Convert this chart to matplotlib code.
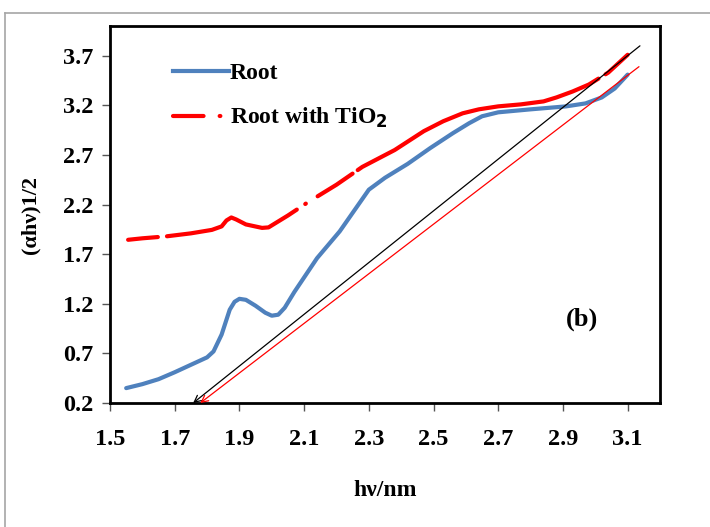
import matplotlib
matplotlib.use("Agg")
import matplotlib.pyplot as plt
from matplotlib.lines import Line2D

plt.rcParams['font.family'] = ['Liberation Serif', 'DejaVu Serif']
plt.rcParams['font.weight'] = 'bold'
plt.rcParams['lines.scale_dashes'] = False

# Root (blue) curve
root_x = [1.55, 1.60, 1.65, 1.70, 1.76, 1.80, 1.82, 1.845, 1.87, 1.885, 1.90,
          1.92, 1.95, 1.98, 2.00, 2.02, 2.04, 2.07, 2.14, 2.21, 2.27, 2.30,
          2.35, 2.42, 2.49, 2.56, 2.61, 2.65, 2.70, 2.80, 2.91, 2.97, 3.02,
          3.06, 3.10]
root_y = [0.35, 0.39, 0.44, 0.51, 0.60, 0.66, 0.72, 0.89, 1.14, 1.22, 1.25,
          1.24, 1.18, 1.11, 1.08, 1.09, 1.16, 1.32, 1.66, 1.93, 2.21, 2.35,
          2.47, 2.61, 2.77, 2.92, 3.02, 3.09, 3.13, 3.16, 3.19, 3.22, 3.28,
          3.37, 3.51]

# Root with TiO2 (red) curve
tio2_x = [1.556, 1.60, 1.675, 1.75, 1.815, 1.845, 1.86, 1.875, 1.89, 1.92,
          1.97, 1.99, 2.01, 2.05, 2.11, 2.20, 2.28, 2.38, 2.47, 2.53, 2.59,
          2.64, 2.70, 2.77, 2.84, 2.88, 2.93, 2.98, 3.04, 3.10]
tio2_y = [1.845, 1.86, 1.88, 1.91, 1.945, 1.98, 2.04, 2.07, 2.05, 2.00,
          1.965, 1.97, 2.01, 2.09, 2.22, 2.40, 2.58, 2.75, 2.94, 3.04, 3.12,
          3.16, 3.19, 3.21, 3.24, 3.28, 3.34, 3.41, 3.53, 3.71]

# tangent (extrapolation) lines: (top point, intercept on x axis)
black_fit = [(3.138, 3.80), (1.757, 0.20)]
red_fit = [(3.135, 3.59), (1.779, 0.20)]

x_ticks = [1.5, 1.7, 1.9, 2.1, 2.3, 2.5, 2.7, 2.9, 3.1]
y_ticks = [0.2, 0.7, 1.2, 1.7, 2.2, 2.7, 3.2, 3.7]

fig = plt.figure(figsize=(7.1, 5.27), dpi=100)
ax = fig.add_axes([110 / 710, 1 - 403 / 527, 550 / 710, 377 / 527])

blue = '#4f81bd'
red = '#ff0000'
red_dash = (0, (21.5, 6.6, 102, 7.3, 0.5, 10, 30, 4.5, 188, 6, 100))

ax.plot(root_x, root_y, color=blue, lw=3, solid_capstyle='round',
        solid_joinstyle='round')
ax.plot(tio2_x, tio2_y, color=red, lw=3, linestyle=red_dash,
        dash_capstyle='round', dash_joinstyle='round')

for (x0, y0), (x1, y1), col in [(*black_fit, 'black'), (*red_fit, red)]:
    ax.annotate('', xy=(x1, y1), xytext=(x0, y0),
                arrowprops=dict(arrowstyle='->', color=col, lw=0.9,
                                shrinkA=0, shrinkB=0, mutation_scale=12),
                annotation_clip=False)

ax.set_xlim(1.5, 3.2)
ax.set_ylim(0.2, 4.0)
ax.set_xticks(x_ticks)
ax.set_yticks(y_ticks)
ax.set_xticklabels([f"{v:.1f}" for v in x_ticks])
ax.set_yticklabels([f"{v:.1f}" for v in y_ticks])
ax.tick_params(axis='both', direction='out', length=6, width=1, color='#555555',
               labelsize=17.5)
ax.tick_params(axis='x', pad=13)
ax.tick_params(axis='y', pad=6)
for sp in ax.spines.values():
    sp.set_linewidth(2)
    sp.set_color('black')

ax.set_xlabel('hν/nm', fontsize=17, fontweight='bold', labelpad=21)
ax.set_ylabel('(αhν)1/2', fontsize=16, fontweight='bold', labelpad=16)

ax.text(2.96, 1.04, '(b)', fontsize=19, fontweight='bold', ha='center', va='center')

handles = [Line2D([], [], color=blue, lw=3),
           Line2D([], [], color=red, lw=3, linestyle=(0, (22, 11.6, 0.5, 40)),
                  dash_capstyle='round')]
ax.legend(handles, ['Root', 'Root with TiO$_2$'], loc='upper left',
          bbox_to_anchor=(0.115, 0.902), frameon=False, fontsize=17,
          handlelength=2.35, handletextpad=0.05, labelspacing=0.92,
          borderpad=0, borderaxespad=0)

# gray frame around the figure
fig.add_artist(Line2D([5 / 710, 1], [1 - 13 / 527, 1 - 13 / 527],
                      transform=fig.transFigure, color='#a6a6a6', lw=1.2))
fig.add_artist(Line2D([5 / 710, 5 / 710], [0, 1 - 13 / 527],
                      transform=fig.transFigure, color='#a6a6a6', lw=1.2))

fig.savefig('out.png', dpi=100)
